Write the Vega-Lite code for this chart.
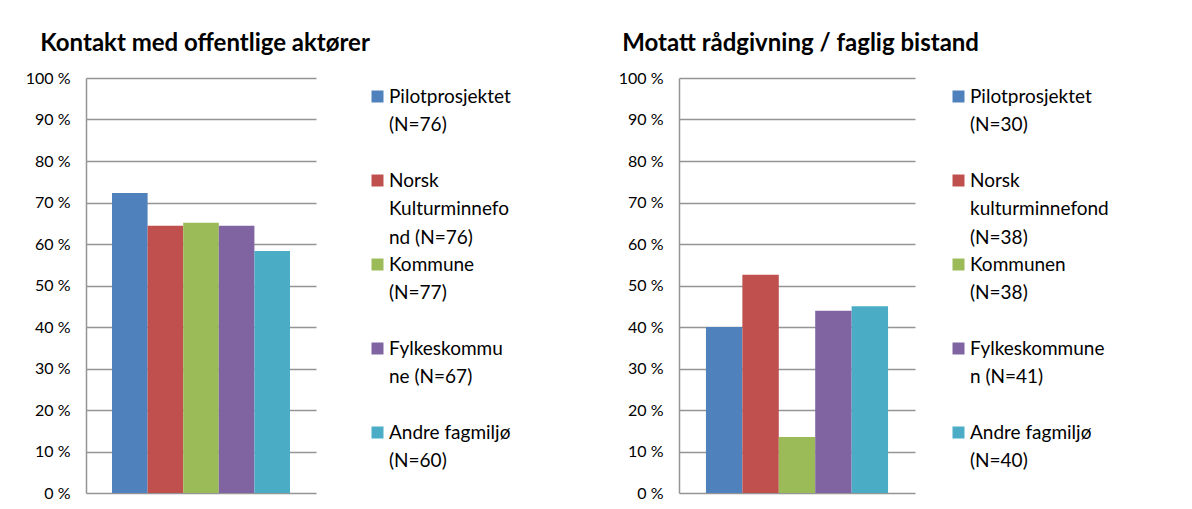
{
  "$schema": "https://vega.github.io/schema/vega-lite/v6.json",
  "padding": {"left": 25, "top": 32, "right": 0, "bottom": 0},
  "autosize": {"type": "pad"},
  "background": "white",
  "config": {
    "font": "Lato",
    "view": {"stroke": null},
    "bar": {"stroke": null},
    "style": {"guide-label": {"lineHeight": 28.5}},
    "axis": {
      "labelFont": "Lato",
      "labelFontSize": 16,
      "labelColor": "#000000",
      "gridColor": "#959595",
      "gridWidth": 1.5,
      "domainColor": "#959595",
      "domainWidth": 1.5,
      "ticks": false,
      "labelPadding": 16
    },
    "title": {"font": "Lato", "fontSize": 24, "fontWeight": "bold", "color": "#000000", "anchor": "start", "frame": "bounds"},
    "legend": {
      "orient": "right",
      "symbolType": "square",
      "symbolSize": 144,
      "symbolStrokeWidth": 0,
      "labelFont": "Lato",
      "labelFontSize": 19,
      "labelColor": "#000000",
      "gridAlign": "all",
      "rowPadding": 7,
      "padding": 9,
      "labelOffset": 2,
      "labelLimit": 300,
      "labelBaseline": "middle",
      "title": null
    }
  },
  "data": {
    "values": [
      {"panel": "A", "series": "Pilotprosjektet|(N=76)", "value": 72.3},
      {"panel": "A", "series": "Norsk|Kulturminnefo|nd (N=76)", "value": 64.4},
      {"panel": "A", "series": "Kommune|(N=77)", "value": 65.1},
      {"panel": "A", "series": "Fylkeskommu|ne (N=67)", "value": 64.4},
      {"panel": "A", "series": "Andre fagmiljø|(N=60)", "value": 58.3},
      {"panel": "B", "series": "Pilotprosjektet|(N=30)", "value": 40.0},
      {"panel": "B", "series": "Norsk|kulturminnefond|(N=38)", "value": 52.6},
      {"panel": "B", "series": "Kommunen|(N=38)", "value": 13.5},
      {"panel": "B", "series": "Fylkeskommune|n (N=41)", "value": 43.9},
      {"panel": "B", "series": "Andre fagmiljø|(N=40)", "value": 45.0}
    ]
  },
  "spacing": 98,
  "resolve": {"scale": {"color": "independent", "x": "independent"}},
  "hconcat": [
    {
      "title": {"text": "Kontakt med offentlige aktører", "dx": 15, "offset": 14},
      "width": 230,
      "height": 415,
      "transform": [{"filter": "datum.panel == 'A'"}],
      "mark": {"type": "bar"},
      "encoding": {
        "x": {"field": "series", "type": "nominal", "sort": null, "axis": null, "scale": {"paddingInner": 0, "paddingOuter": 0.73}},
        "y": {
          "field": "value", "type": "quantitative",
          "scale": {"domain": [0, 100], "nice": false},
          "axis": {"title": null, "values": [0, 10, 20, 30, 40, 50, 60, 70, 80, 90, 100], "labelExpr": "datum.value + ' %'"}
        },
        "color": {
          "field": "series", "type": "nominal", "sort": null,
          "scale": {
            "domain": ["Pilotprosjektet|(N=76)", "Norsk|Kulturminnefo|nd (N=76)", "Kommune|(N=77)", "Fylkeskommu|ne (N=67)", "Andre fagmiljø|(N=60)"],
            "range": ["#4F81BD", "#C0504D", "#9BBB59", "#8064A2", "#4BACC6"]
          },
          "legend": {"offset": 43, "labelExpr": "split(datum.label, '|')"}
        }
      }
    },
    {
      "title": {"text": "Motatt rådgivning / faglig bistand", "dx": 4, "offset": 14},
      "width": 236,
      "height": 415,
      "transform": [{"filter": "datum.panel == 'B'"}],
      "mark": {"type": "bar"},
      "encoding": {
        "x": {"field": "series", "type": "nominal", "sort": null, "axis": null, "scale": {"paddingInner": 0, "paddingOuter": 0.74}},
        "y": {
          "field": "value", "type": "quantitative",
          "scale": {"domain": [0, 100], "nice": false},
          "axis": {"title": null, "values": [0, 10, 20, 30, 40, 50, 60, 70, 80, 90, 100], "labelExpr": "datum.value + ' %'"}
        },
        "color": {
          "field": "series", "type": "nominal", "sort": null,
          "scale": {
            "domain": ["Pilotprosjektet|(N=30)", "Norsk|kulturminnefond|(N=38)", "Kommunen|(N=38)", "Fylkeskommune|n (N=41)", "Andre fagmiljø|(N=40)"],
            "range": ["#4F81BD", "#C0504D", "#9BBB59", "#8064A2", "#4BACC6"]
          },
          "legend": {"offset": 25, "labelExpr": "split(datum.label, '|')"}
        }
      }
    }
  ]
}
